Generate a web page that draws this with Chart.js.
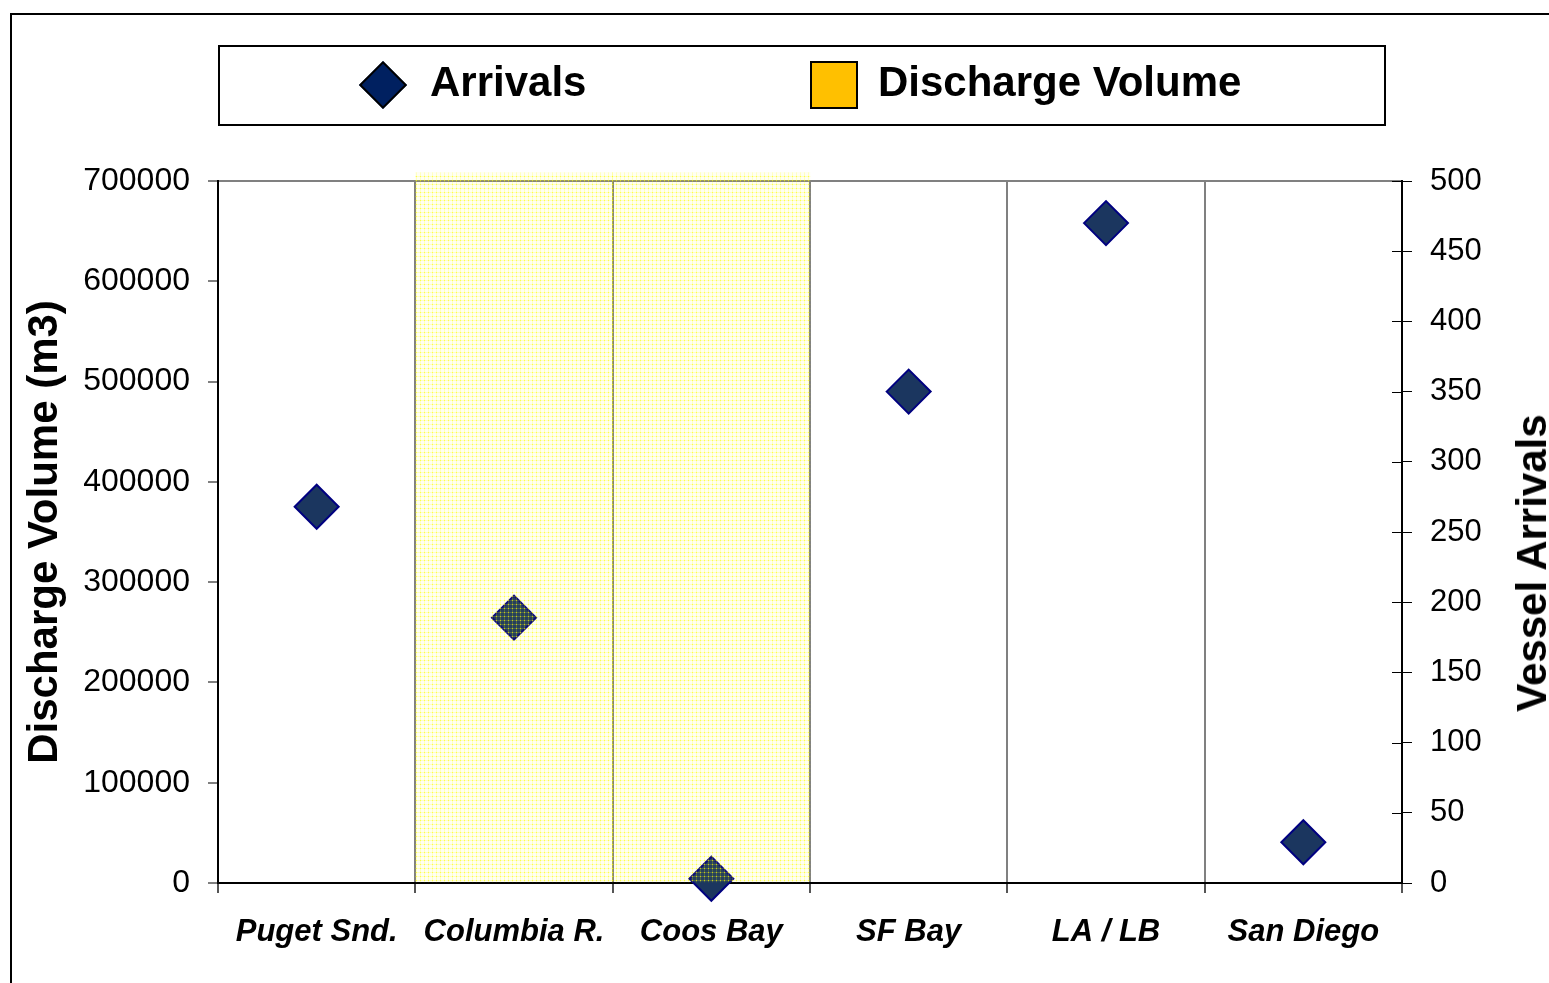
<!DOCTYPE html>
<html>
<head>
<meta charset="utf-8">
<script src="https://cdn.jsdelivr.net/npm/chart.js@4/dist/chart.umd.min.js"></script>
<style>
  body { margin: 0; background: #fff; font-family: "Liberation Sans", Arial, sans-serif; }
  #wrap { position: relative; width: 1549px; height: 983px; overflow: hidden; }
  #frame { position: absolute; left: 10px; top: 13px; width: 1600px; height: 1000px; border: 2px solid #000; }
  #legend { position: absolute; left: 218px; top: 45px; width: 1164px; height: 77px; border: 2px solid #000; background: #fff; }
  .lg-item { position: absolute; top: -4px; height: 77px; display: flex; align-items: center; font-weight: bold; font-size: 42px; color: #000; }
  .diamond { width: 30px; height: 30px; background: #002060; border: 2px solid #000; transform: rotate(45deg); margin-right: 30px; margin-top: 6px; }
  .square { width: 44px; height: 44px; background: #FFC000; border: 2px solid #000; margin-right: 20px; margin-top: 6px; }
  #rightTitle { position: absolute; left: 1532px; top: 563px; transform: translate(-50%, -50%) rotate(-90deg); white-space: nowrap; font-weight: bold; font-size: 42px; }
  #chartBox { position: absolute; left: 0; top: 0; width: 1549px; height: 983px; }
</style>
</head>
<body>
<div id="wrap">
  <div id="frame"></div>
  <div id="chartBox"><canvas id="grafico"></canvas></div>
  <div id="legend">
    <div class="lg-item" style="left:146px"><div class="diamond"></div><span id="lgArrivals"></span></div>
    <div class="lg-item" style="left:590px"><div class="square"></div><span id="lgDischarge"></span></div>
  </div>
  <div id="rightTitle">Vessel Arrivals</div>
</div>
<script>
const categorias = ["Puget Snd.", "Columbia R.", "Coos Bay", "SF Bay", "LA / LB", "San Diego"];
// chegadas (eixo direito)
const chegadas = [268, 189, 3, 350, 470, 29];
// volume de descarga (eixo esquerdo) - as barras passam do topo do eixo
const volumeDescarga = [null, 708000, 708000, null, null, null];
const ticksVolume = [0, 100000, 200000, 300000, 400000, 500000, 600000, 700000];
const ticksChegadas = [0, 50, 100, 150, 200, 250, 300, 350, 400, 450, 500];

const labelChegadas = "Arrivals";
const labelDescarga = "Discharge Volume";

document.getElementById("lgArrivals").textContent = labelChegadas;
document.getElementById("lgDischarge").textContent = labelDescarga;

// padrao pontilhado amarelo (tipo Excel)
function criarPadrao() {
  const c = document.createElement("canvas");
  c.width = 4;
  c.height = 4;
  const g = c.getContext("2d");
  g.fillStyle = "rgba(255,255,0,0.05)";
  g.fillRect(0, 0, 4, 4);
  g.fillStyle = "rgba(255,255,0,0.2)";
  g.fillRect(0, 0, 4, 1);
  g.fillRect(0, 0, 1, 4);
  g.fillStyle = "rgba(255,255,0,0.55)";
  g.fillRect(0, 0, 1, 1);
  return g.createPattern(c, "repeat");
}

const fonte = "'Liberation Sans', Arial, sans-serif";

// marcas do eixo direito cruzando o eixo (para dentro)
const tickInterno = {
  id: "tickInterno",
  afterDraw(chart) {
    const s = chart.scales.y1;
    const ctx = chart.ctx;
    ctx.save();
    ctx.strokeStyle = "#000";
    ctx.lineWidth = 1;
    s.ticks.forEach((t) => {
      const y = Math.round(s.getPixelForValue(t.value)) + 0.5;
      ctx.beginPath();
      ctx.moveTo(s.left - 10, y);
      ctx.lineTo(s.left, y);
      ctx.stroke();
    });
    ctx.restore();
  },
};

const ctx = document.getElementById("grafico");
new Chart(ctx, {
  data: {
    labels: categorias,
    datasets: [
      {
        type: "bar",
        label: labelDescarga,
        data: volumeDescarga,
        backgroundColor: criarPadrao(),
        borderWidth: 0,
        categoryPercentage: 1,
        barPercentage: 1,
        yAxisID: "y",
        clip: false,
        order: 0,
      },
      {
        type: "line",
        label: labelChegadas,
        data: chegadas,
        showLine: false,
        pointStyle: "rectRot",
        pointRadius: 22,
        pointHoverRadius: 22,
        pointBackgroundColor: "#1b365f",
        pointBorderColor: "#000080",
        pointBorderWidth: 2,
        yAxisID: "y1",
        clip: false,
        order: 1,
      },
    ],
  },
  options: {
    responsive: true,
    maintainAspectRatio: false,
    animation: false,
    layout: { padding: { left: 20, top: 181, right: 0, bottom: 0 } },
    plugins: { legend: { display: false }, tooltip: { enabled: false } },
    scales: {
      x: {
        offset: true,
        afterFit: (s) => { s.height = 100; },
        grid: { offset: true, color: "#808080", lineWidth: 2, tickLength: 10, tickColor: "#555" },
        border: { display: true, color: "#000", width: 2 },
        ticks: {
          color: "#000",
          padding: 21,
          maxRotation: 0,
          font: { family: fonte, size: 31, weight: "bold", style: "italic" },
        },
      },
      y: {
        position: "left",
        min: 0,
        max: 700000,
        afterFit: (s) => { s.width = 198; },
        afterBuildTicks: (s) => { s.ticks = ticksVolume.map((v) => ({ value: v })); },
        grid: {
          drawOnChartArea: true,
          color: (c) => (c.tick && c.tick.value === 700000 ? "#808080" : "rgba(0,0,0,0)"),
          lineWidth: 2,
          tickLength: 10,
          tickColor: "#000",
          tickWidth: 1,
        },
        border: { display: true, color: "#000", width: 2 },
        ticks: {
          color: "#000",
          padding: 18,
          font: { family: fonte, size: 32 },
          callback: (v) => String(v),
        },
        title: {
          display: true,
          text: "Discharge Volume (m3)",
          color: "#000",
          padding: 0,
          font: { family: fonte, size: 42, weight: "bold" },
        },
      },
      y1: {
        position: "right",
        min: 0,
        max: 500,
        afterFit: (s) => { s.width = 147; },
        afterBuildTicks: (s) => { s.ticks = ticksChegadas.map((v) => ({ value: v })); },
        grid: { drawOnChartArea: false, tickLength: 10, color: "#000", tickWidth: 1 },
        border: { display: true, color: "#000", width: 2 },
        ticks: {
          color: "#000",
          padding: 18,
          font: { family: fonte, size: 31 },
          callback: (v) => String(v),
        },
      },
    },
  },
  plugins: [tickInterno],
});
</script>
</body>
</html>
